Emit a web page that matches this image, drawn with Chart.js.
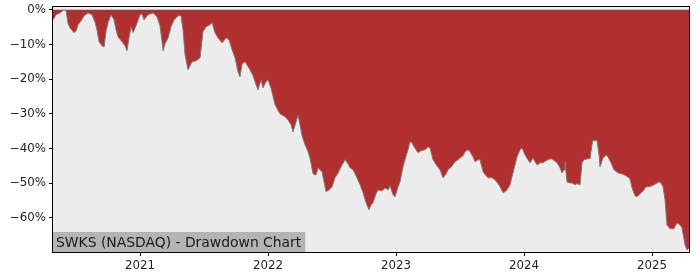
<!DOCTYPE html>
<html lang="en">
<head>
    <meta charset="UTF-8">
    <title>SWKS Drawdown Chart</title>
    <script src="https://cdn.jsdelivr.net/npm/chart.js"></script>
    <style>
        html, body { margin: 0; padding: 0; background: #ffffff; }
        #wrap { width: 700px; height: 280px; }
    </style>
</head>
<body>
    <div id="wrap"><canvas id="ddChart" width="700" height="280"></canvas></div>

    <script>
        // dates as decimal years, drawdown in percent
        const dates = [
            2020.320, 2020.344, 2020.375, 2020.406, 2020.422, 2020.438, 2020.453, 2020.484, 2020.500, 2020.516,
            2020.539, 2020.563, 2020.594, 2020.625, 2020.648, 2020.664, 2020.680, 2020.703, 2020.719, 2020.734,
            2020.750, 2020.773, 2020.797, 2020.813, 2020.828, 2020.859, 2020.883, 2020.898, 2020.914, 2020.930,
            2020.945, 2020.969, 2021.000, 2021.016, 2021.031, 2021.063, 2021.102, 2021.133, 2021.156, 2021.172,
            2021.180, 2021.195, 2021.219, 2021.242, 2021.266, 2021.297, 2021.320, 2021.336, 2021.352, 2021.375,
            2021.406, 2021.438, 2021.469, 2021.492, 2021.516, 2021.547, 2021.563, 2021.586, 2021.609, 2021.641,
            2021.672, 2021.695, 2021.719, 2021.742, 2021.766, 2021.781, 2021.797, 2021.820, 2021.836, 2021.859,
            2021.883, 2021.898, 2021.922, 2021.945, 2021.961, 2021.984, 2022.000, 2022.023, 2022.055, 2022.094,
            2022.133, 2022.156, 2022.180, 2022.195, 2022.219, 2022.234, 2022.250, 2022.266, 2022.289, 2022.313,
            2022.328, 2022.352, 2022.375, 2022.391, 2022.422, 2022.438, 2022.453, 2022.477, 2022.500, 2022.523,
            2022.547, 2022.578, 2022.602, 2022.625, 2022.641, 2022.664, 2022.695, 2022.719, 2022.742, 2022.766,
            2022.789, 2022.805, 2022.820, 2022.844, 2022.859, 2022.891, 2022.914, 2022.938, 2022.953, 2022.977,
            2022.992, 2023.016, 2023.031, 2023.055, 2023.070, 2023.094, 2023.109, 2023.125, 2023.141, 2023.172,
            2023.195, 2023.227, 2023.250, 2023.266, 2023.289, 2023.320, 2023.344, 2023.367, 2023.391, 2023.406,
            2023.438, 2023.461, 2023.484, 2023.500, 2023.523, 2023.539, 2023.563, 2023.578, 2023.602, 2023.617,
            2023.641, 2023.656, 2023.680, 2023.703, 2023.719, 2023.750, 2023.773, 2023.797, 2023.813, 2023.836,
            2023.852, 2023.867, 2023.891, 2023.906, 2023.930, 2023.945, 2023.969, 2023.984, 2024.008, 2024.031,
            2024.047, 2024.070, 2024.086, 2024.102, 2024.125, 2024.148, 2024.172, 2024.188, 2024.211, 2024.227,
            2024.258, 2024.281, 2024.297, 2024.313, 2024.320, 2024.336, 2024.359, 2024.375, 2024.398, 2024.414,
            2024.438, 2024.453, 2024.469, 2024.500, 2024.516, 2024.531, 2024.539, 2024.555, 2024.570, 2024.586,
            2024.594, 2024.617, 2024.641, 2024.656, 2024.680, 2024.703, 2024.734, 2024.766, 2024.797, 2024.828,
            2024.844, 2024.867, 2024.883, 2024.906, 2024.930, 2024.953, 2024.977, 2025.000, 2025.031, 2025.055,
            2025.070, 2025.086, 2025.102, 2025.117, 2025.141, 2025.172, 2025.195, 2025.219, 2025.234, 2025.258,
            2025.273, 2025.289
        ];
        const drawdown = [
            -2.9, -1.4, -0.9, 0, -0.3, -4.0, -5.2, -6.6, -6.1, -4.3,
            -3.2, -1.7, -0.9, -1.4, -3.5, -5.8, -9.2, -10.4, -10.7, -6.3,
            -3.7, -1.4, -2.9, -5.8, -7.8, -9.2, -10.4, -11.8, -8.1, -4.9,
            -6.6, -4.6, -1.4, -1.2, -2.9, -1.4, -0.9, -2.0, -4.6, -9.2,
            -11.8, -9.8, -8.1, -4.9, -2.9, -1.7, -1.7, -5.8, -13.0, -17.3,
            -15.0, -14.7, -13.8, -6.3, -4.9, -4.3, -3.7, -6.6, -8.1, -9.5,
            -8.1, -8.6, -11.5, -13.8, -17.9, -19.3, -15.6, -15.0, -15.9, -17.3,
            -19.0, -20.7, -23.1, -20.2, -22.5, -20.7, -20.2, -22.5, -27.4, -30.0,
            -30.8, -31.7, -33.1, -35.2, -32.3, -30.3, -33.1, -36.3, -38.9, -40.9,
            -42.7, -47.3, -47.6, -45.5, -46.7, -49.6, -52.4, -51.9, -51.0, -48.4,
            -47.0, -44.7, -43.2, -44.4, -45.5, -46.1, -48.4, -50.4, -52.7, -55.6,
            -57.6, -56.2, -55.6, -53.0, -51.9, -52.2, -51.3, -51.9, -50.7, -53.3,
            -53.9, -51.0, -49.6, -45.2, -43.2, -40.3, -38.0, -38.3, -39.5, -41.2,
            -40.6, -40.3, -39.5, -39.8, -43.2, -45.0, -46.1, -48.4, -47.3, -46.1,
            -45.0, -43.8, -43.2, -42.7, -42.1, -40.9, -40.3, -40.9, -42.4, -43.8,
            -43.2, -43.2, -46.7, -47.8, -48.4, -48.4, -49.0, -50.1, -51.0, -52.7,
            -52.4, -51.9, -50.4, -48.1, -44.7, -42.4, -40.3, -39.8, -41.8, -43.2,
            -44.1, -42.7, -43.8, -44.7, -44.1, -44.1, -43.5, -43.2, -42.9, -43.2,
            -44.1, -45.5, -47.0, -46.1, -43.8, -49.6, -49.9, -49.9, -50.4, -50.1,
            -50.4, -44.1, -43.2, -42.9, -42.9, -38.9, -37.5, -37.8, -37.5, -41.8,
            -45.2, -42.7, -41.8, -42.4, -44.1, -46.1, -47.0, -47.3, -47.8, -48.7,
            -51.3, -53.6, -53.9, -53.0, -52.2, -51.0, -51.0, -50.7, -50.1, -49.6,
            -49.9, -51.0, -54.8, -62.0, -63.1, -63.1, -61.4, -62.0, -62.8, -67.7,
            -69.2, -68.6
        ];
        const yearTicks = [2021, 2022, 2023, 2024, 2025];
        const pctTicks = [0, -10, -20, -30, -40, -50, -60];
        const chartLabel = 'SWKS (NASDAQ) - Drawdown Chart';

        const RED = '#b03030';
        const PANEL = '#ececec';
        const FONT = '"DejaVu Sans", sans-serif';

        // light gray panel, black frame and the label box in the corner
        const panelPlugin = {
            id: 'panel',
            beforeDatasetsDraw(chart) {
                const a = chart.chartArea;
                const ctx = chart.ctx;
                ctx.save();
                ctx.fillStyle = PANEL;
                ctx.fillRect(a.left, a.top, a.right - a.left, a.bottom - a.top);
                ctx.restore();
            },
            afterDraw(chart) {
                const a = chart.chartArea;
                const ctx = chart.ctx;
                ctx.save();
                // label box
                ctx.font = '13.9px ' + FONT;
                const w = ctx.measureText(chartLabel).width;
                ctx.fillStyle = '#b4b4b4';
                ctx.fillRect(a.left, a.bottom - 20, w + 7, 20);
                ctx.fillStyle = '#1a1a1a';
                ctx.textBaseline = 'alphabetic';
                ctx.fillText(chartLabel, a.left + 3, a.bottom - 5);
                // frame
                ctx.strokeStyle = '#000000';
                ctx.lineWidth = 1;
                ctx.strokeRect(Math.round(a.left) - 0.5, Math.round(a.top) - 0.5,
                    Math.round(a.right - a.left) + 1, Math.round(a.bottom - a.top) + 1);
                ctx.restore();
            }
        };

        const ctx = document.getElementById('ddChart').getContext('2d');
        new Chart(ctx, {
            type: 'line',
            data: {
                datasets: [{
                    data: dates.map((d, i) => ({ x: d, y: drawdown[i] })),
                    borderColor: '#7a7a7a',
                    borderWidth: 1,
                    backgroundColor: RED,
                    fill: 'origin',
                    pointRadius: 0,
                    tension: 0
                }]
            },
            options: {
                responsive: false,
                animation: false,
                layout: { padding: { top: 7, right: 11, left: 0, bottom: 0 } },
                plugins: {
                    legend: { display: false },
                    tooltip: { enabled: false }
                },
                scales: {
                    x: {
                        type: 'linear',
                        min: 2020.320,
                        max: 2025.289,
                        afterBuildTicks: (scale) => { scale.ticks = yearTicks.map(v => ({ value: v })); },
                        afterFit: (scale) => {
                            scale.height = 28;
                            scale.paddingLeft = 0;
                            scale.paddingRight = 0;
                        },
                        grid: { drawOnChartArea: false, drawTicks: true, tickLength: 4, tickColor: '#000000' },
                        border: { display: false },
                        ticks: {
                            color: '#222222',
                            font: { family: FONT, size: 11.8 },
                            padding: 3,
                            maxRotation: 0,
                            callback: (v) => String(v)
                        }
                    },
                    y: {
                        min: -69.8,
                        max: 0.8,
                        afterBuildTicks: (scale) => { scale.ticks = pctTicks.map(v => ({ value: v })); },
                        afterFit: (scale) => {
                            scale.width = 53;
                            scale.paddingTop = 0;
                            scale.paddingBottom = 0;
                        },
                        grid: { drawOnChartArea: false, drawTicks: true, tickLength: 4, tickColor: '#000000' },
                        border: { display: false },
                        ticks: {
                            color: '#222222',
                            font: { family: FONT, size: 11.8 },
                            padding: 3,
                            callback: (v) => v === 0 ? '0%' : '\u2212' + Math.abs(v) + '%'
                        }
                    }
                }
            },
            plugins: [panelPlugin]
        });
    </script>
</body>
</html>
